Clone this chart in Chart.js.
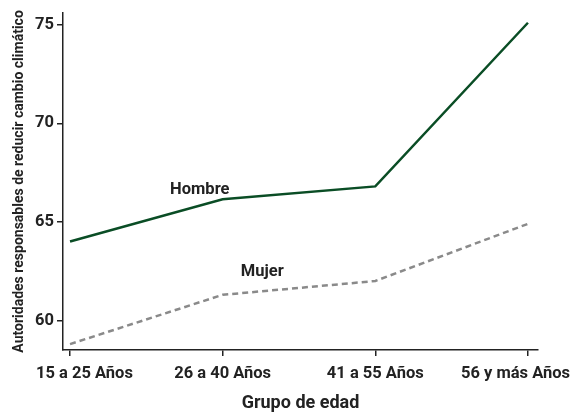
<!DOCTYPE html>
<html>
<head>
<meta charset="utf-8">
<script src="https://cdn.jsdelivr.net/npm/chart.js@4"></script>
<style>
  html, body { margin: 0; padding: 0; background: #fff; }
  #chart { display: block; }
</style>
</head>
<body>
<canvas id="chart" width="580" height="414"></canvas>
<script>
// Data
const categories = ['15 a 25 Años', '26 a 40 Años', '41 a 55 Años', '56 y más Años'];
const hombre = [64.0, 66.15, 66.8, 75.1];
const mujer = [58.8, 61.3, 62.0, 64.9];
const yTicks = [60, 65, 70, 75];

const FONT = 'Roboto, "Liberation Sans", sans-serif';
const TEXT = '#222';

// series labels drawn inside the plot
const seriesLabels = {
    id: 'seriesLabels',
    afterDatasetsDraw(chart) {
        const { ctx, scales } = chart;
        const items = [
            { text: 'Hombre', x: 0.85, y: 66.6 },
            { text: 'Mujer', x: 1.26, y: 62.45 }
        ];
        ctx.save();
        ctx.font = 'bold 16.5px ' + FONT;
        ctx.fillStyle = TEXT;
        ctx.textAlign = 'center';
        ctx.textBaseline = 'middle';
        items.forEach(item => {
            ctx.fillText(item.text, scales.x.getPixelForValue(item.x), scales.y.getPixelForValue(item.y));
        });
        ctx.restore();
    }
};

// x tick labels, kept inside the canvas like the original
const xLabels = {
    id: 'xLabels',
    afterDraw(chart) {
        const { ctx, scales, width } = chart;
        ctx.save();
        ctx.font = 'bold 16.5px ' + FONT;
        ctx.fillStyle = TEXT;
        ctx.textAlign = 'left';
        ctx.textBaseline = 'alphabetic';
        categories.forEach((c, i) => {
            const w = ctx.measureText(c).width;
            let x = scales.x.getPixelForValue(i) - w / 2;
            x = Math.max(36, Math.min(x, width - 10 - w));
            ctx.fillText(c, x, scales.x.top + 28);
        });
        ctx.restore();
    }
};

const ctx = document.getElementById('chart').getContext('2d');
new Chart(ctx, {
    type: 'line',
    data: {
        datasets: [
            {
                label: 'Hombre',
                data: categories.map((c, i) => ({ x: i, y: hombre[i] })),
                borderColor: '#0a4d25',
                borderWidth: 2.5,
                pointRadius: 0,
                tension: 0
            },
            {
                label: 'Mujer',
                data: categories.map((c, i) => ({ x: i, y: mujer[i] })),
                borderColor: '#8a8a8a',
                borderWidth: 2.5,
                borderDash: [6, 4],
                pointRadius: 0,
                tension: 0
            }
        ]
    },
    options: {
        responsive: false,
        animation: false,
        layout: { padding: { top: 8, right: 42, left: 0, bottom: 0 } },
        plugins: {
            legend: { display: false },
            tooltip: { enabled: false }
        },
        scales: {
            x: {
                type: 'linear',
                min: -0.046,
                max: 3.066,
                afterBuildTicks: axis => { axis.ticks = categories.map((c, i) => ({ value: i })); },
                afterFit: axis => { axis.height = 64; },
                grid: { display: true, drawOnChartArea: false, drawTicks: true, tickLength: 6, color: '#222', lineWidth: 1.5 },
                border: { display: true, color: '#222', width: 1.5 },
                ticks: {
                    callback: () => '',
                    maxRotation: 0
                },
                title: {
                    display: true,
                    text: 'Grupo de edad',
                    color: TEXT,
                    font: { family: FONT, size: 18, weight: 'bold' },
                    padding: { top: 0, bottom: 0 }
                }
            },
            y: {
                min: 58.5,
                max: 75.6,
                afterBuildTicks: axis => { axis.ticks = yTicks.map(v => ({ value: v })); },
                afterFit: axis => { axis.width = 63; },
                grid: { display: true, drawOnChartArea: false, drawTicks: true, tickLength: 6, color: '#222', lineWidth: 1.5 },
                border: { display: true, color: '#222', width: 1.5 },
                ticks: {
                    color: TEXT,
                    font: { family: FONT, size: 16.5, weight: 'bold' },
                    padding: 3
                },
                title: {
                    display: true,
                    text: 'Autoridades responsables de reducir cambio climático',
                    color: TEXT,
                    font: { family: FONT, size: 14, weight: 'bold' },
                    padding: { top: 11, bottom: 0 }
                }
            }
        }
    },
    plugins: [seriesLabels, xLabels]
});
</script>
</body>
</html>
